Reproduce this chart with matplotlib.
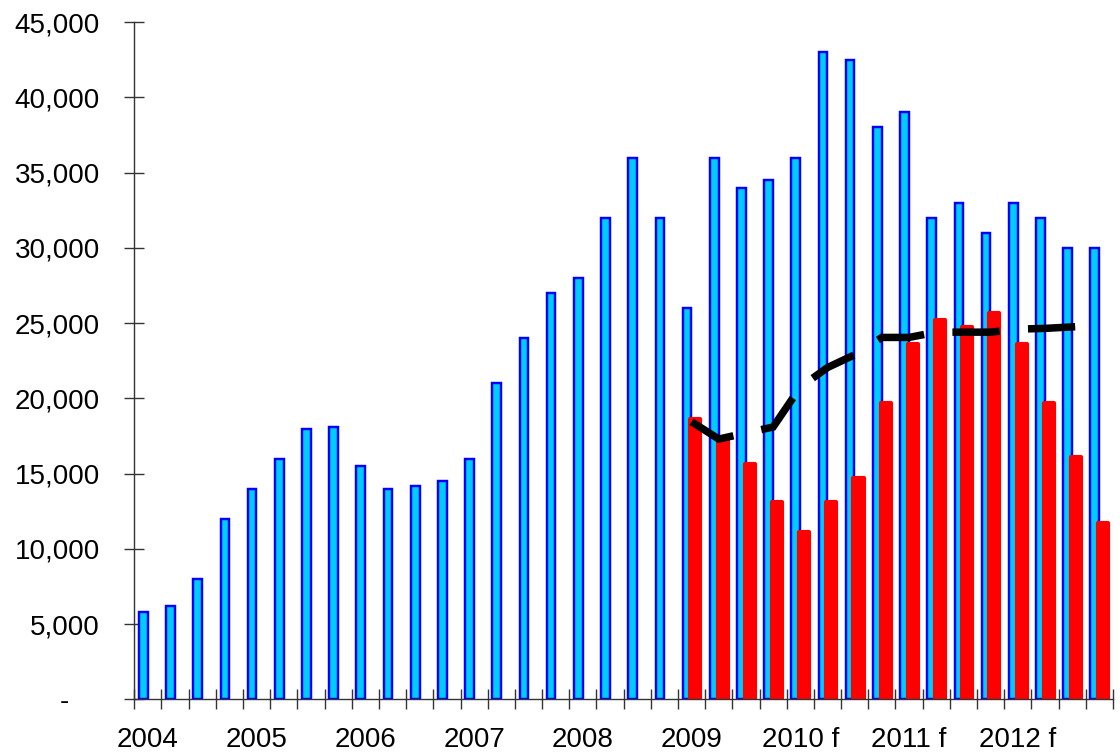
import matplotlib
matplotlib.use("Agg")
import matplotlib.pyplot as plt
from matplotlib.ticker import FuncFormatter, FixedLocator
import numpy as np

plt.rcParams['font.family'] = ['Liberation Sans', 'DejaVu Sans']

# ---- data (quarterly, 2004 Q1 .. 2012 Q4) ----
year_labels = ["2004", "2005", "2006", "2007", "2008", "2009", "2010 f", "2011 f", "2012 f"]
blue_values = [5800, 6200, 8000, 12000,
               14000, 16000, 18000, 18100,
               15500, 14000, 14200, 14500,
               16000, 21000, 24000, 27000,
               28000, 32000, 36000, 32000,
               26000, 36000, 34000, 34500,
               36000, 43000, 42500, 38000,
               39000, 32000, 33000, 31000,
               33000, 32000, 30000, 30000]
red_start_quarter = 20  # 2009 Q1
red_values = [18600, 17200, 15650, 13150,
              11100, 13150, 14700, 19700,
              23600, 25200, 24750, 25650,
              23600, 19700, 16100, 11750]
line_values = [18450, 17300, 17700, 18100,
               20750, 22050, 22900, 24050,
               24050, 24400, 24400, 24400,
               24600, 24650, 24750, 24850]

n = len(blue_values)
q = np.arange(n)
qr = np.arange(red_start_quarter, red_start_quarter + len(red_values))

fig = plt.figure(figsize=(11.2, 7.53), dpi=100)
ax = fig.add_axes([0.1199, 0.07105, 0.8738, 0.8997])

ax.bar(q + 0.333, blue_values, width=0.32, color='#00CCFF',
       edgecolor='#0000FF', linewidth=1.75, zorder=2)
ax.bar(qr + 0.64, red_values, width=0.37, color='#FF0000',
       edgecolor='#FF0000', linewidth=3, joinstyle='round', zorder=3)
ax.plot(qr + 0.5, line_values, color='black', lw=5.4,
        linestyle=(0, (6.3, 3.8)), dash_capstyle='butt',
        solid_joinstyle='miter', dash_joinstyle='miter', zorder=4)

ax.set_xlim(0, n)
ax.set_ylim(0, 45000)

for s in ['top', 'right']:
    ax.spines[s].set_visible(False)
for s in ['left', 'bottom']:
    ax.spines[s].set_color('#333333')
    ax.spines[s].set_linewidth(1.0)
    ax.spines[s].set_zorder(5)

ax.set_yticks(np.arange(0, 45001, 5000))
ax.yaxis.set_major_formatter(FuncFormatter(lambda v, p: f"{v:,.0f}" if v else "-    "))
ax.tick_params(axis='y', direction='inout', length=13.7, width=1, color='#333333',
               labelsize=20, pad=18)

ax.xaxis.set_major_locator(FixedLocator(np.arange(0, n + 1)))
ax.xaxis.set_major_formatter(FuncFormatter(lambda v, p: ""))
ax.xaxis.set_minor_locator(FixedLocator(np.arange(0, n, 4) + 0.5))
ax.set_xticklabels(year_labels, minor=True)
ax.tick_params(axis='x', which='major', direction='inout', length=14, width=1, color='#333333')
ax.tick_params(axis='x', which='minor', length=0, labelsize=20, pad=20)

fig.savefig("out.png", dpi=100)
